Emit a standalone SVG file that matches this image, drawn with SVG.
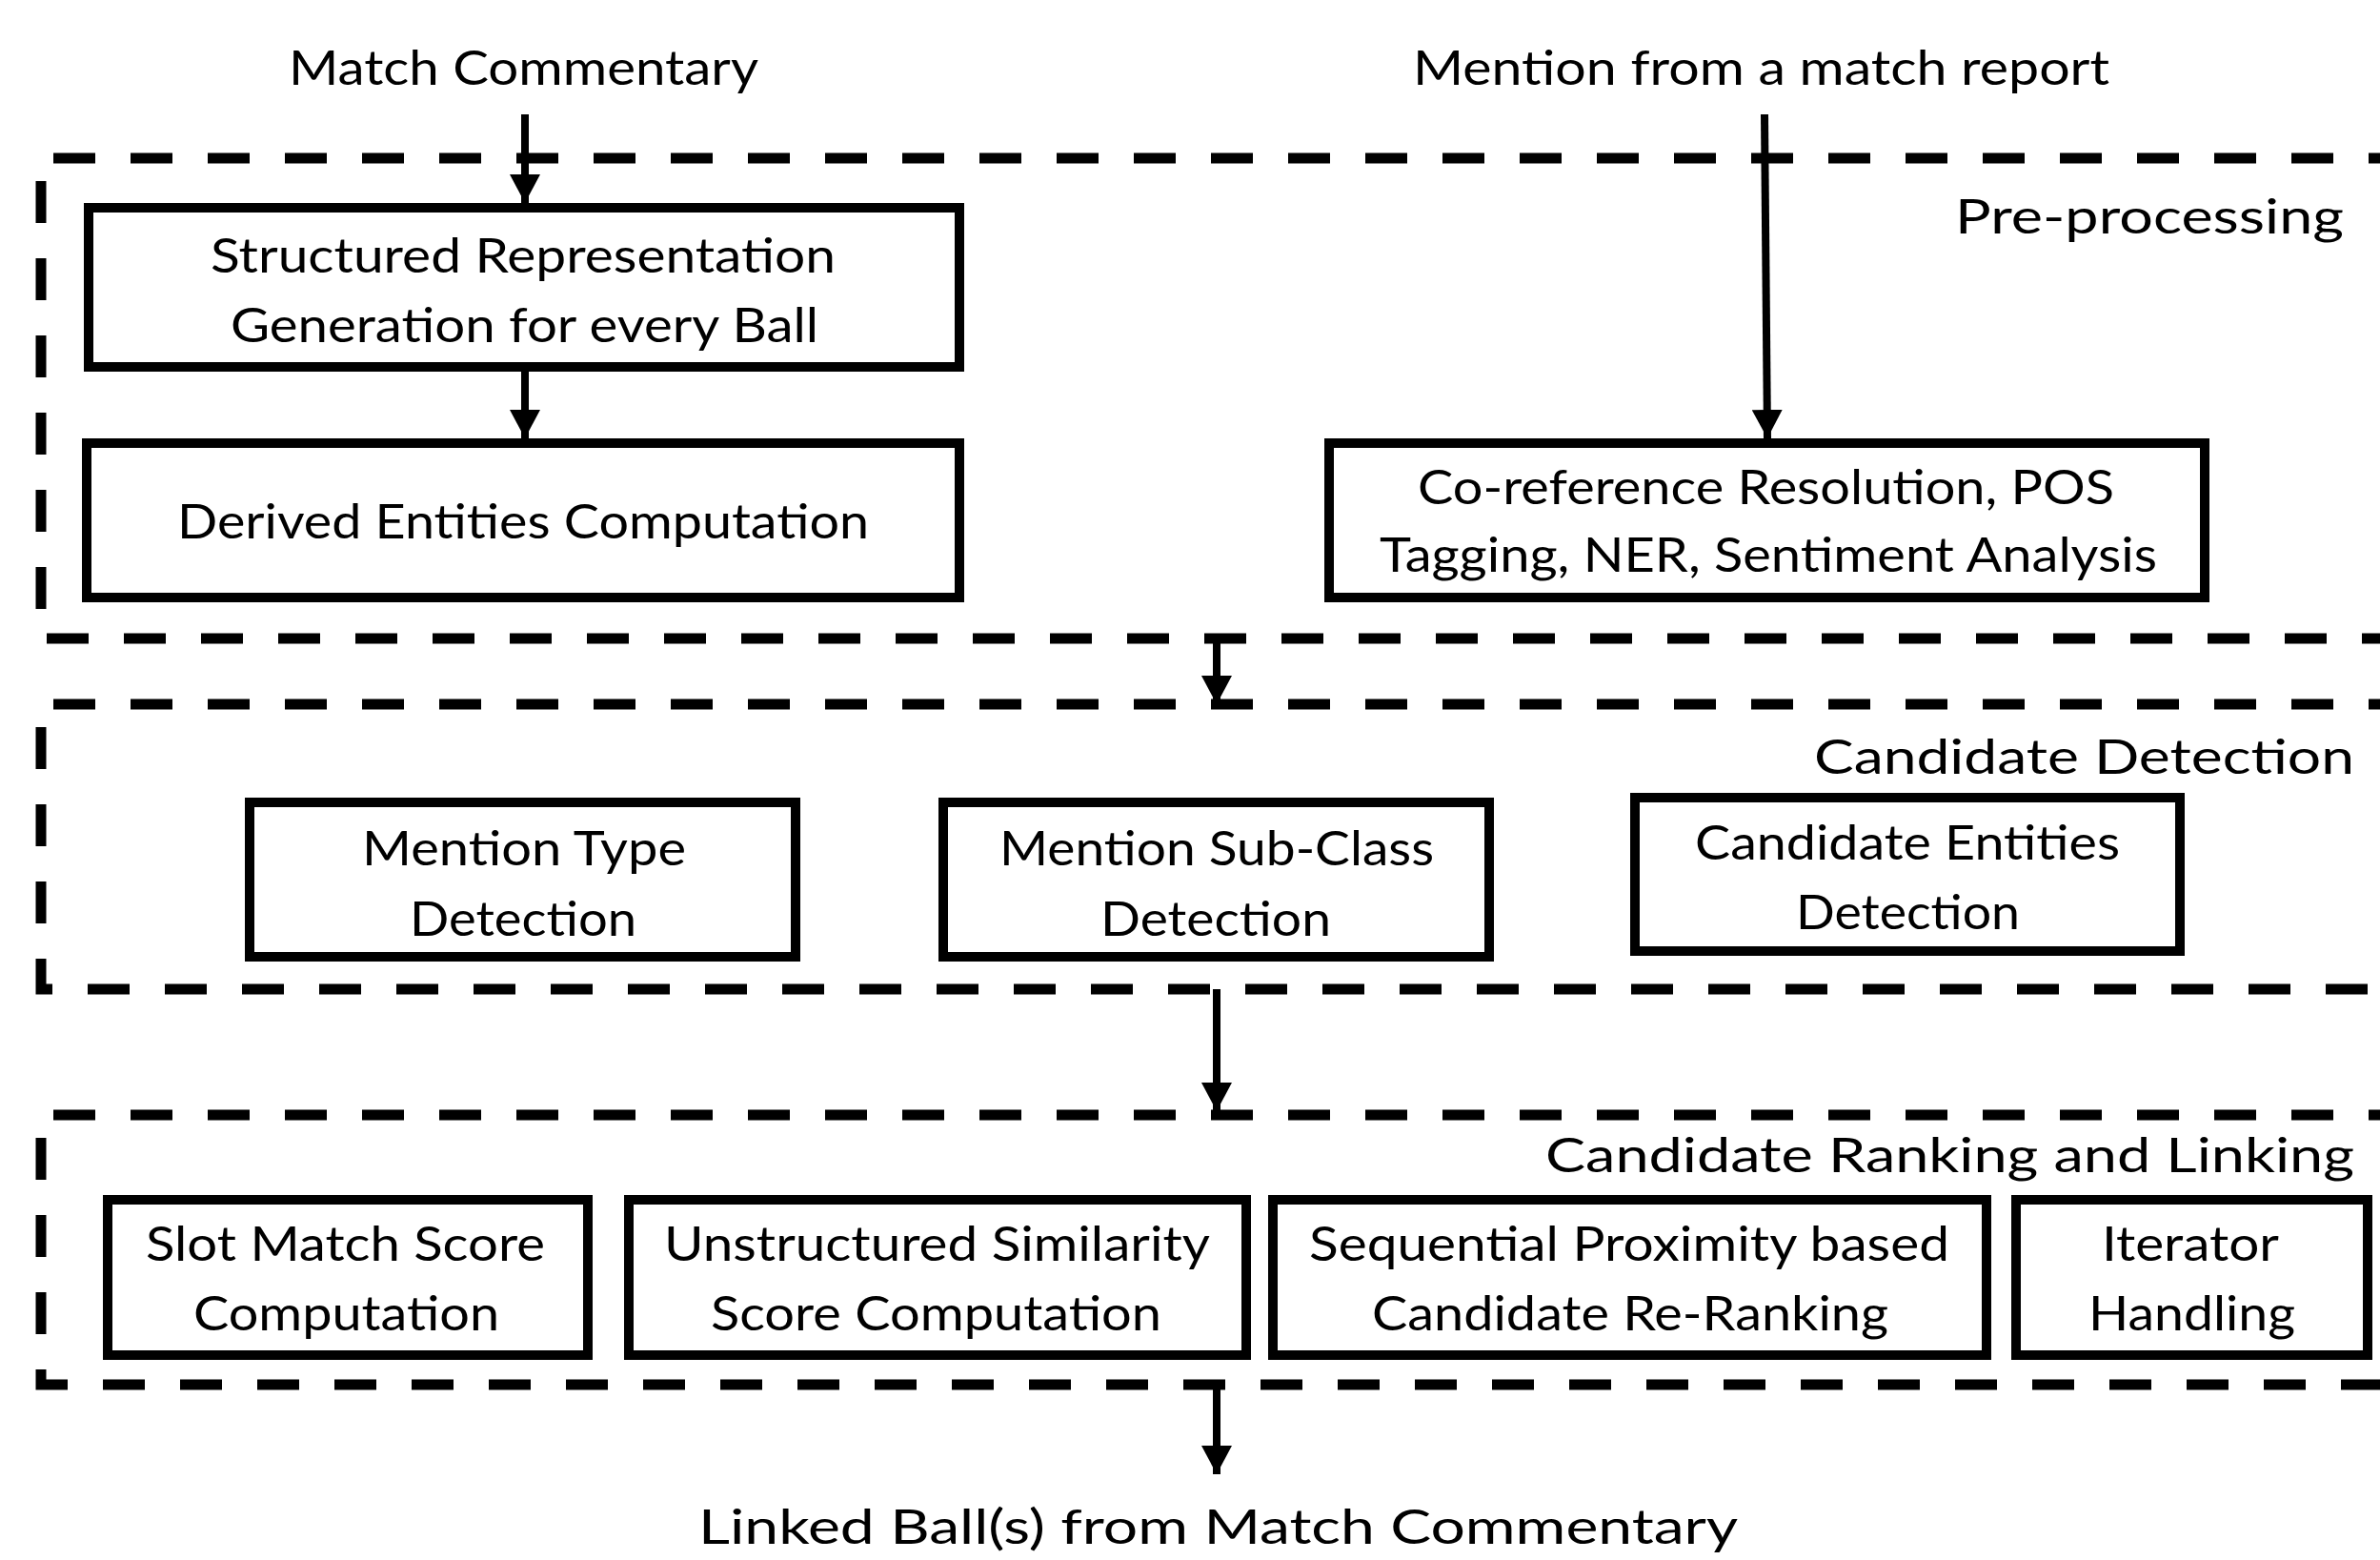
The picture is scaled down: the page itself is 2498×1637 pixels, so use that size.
<svg xmlns="http://www.w3.org/2000/svg" width="2498" height="1637" viewBox="0 0 2498 1637">
<style>
text{font-family:Lato,"Open Sans","Liberation Sans",sans-serif;font-size:51px;fill:#000}
.box{fill:#fff;stroke:#000;stroke-width:10}
.grp{fill:none;stroke:#000;stroke-width:11;stroke-dasharray:44 37}
.conn{stroke:#000;stroke-width:8;fill:none}
</style>
<defs>
<marker id="ah" markerUnits="userSpaceOnUse" markerWidth="32" markerHeight="32" viewBox="0 0 32 32" refX="30" refY="16" orient="auto">
<path d="M0,0 L30,16 L0,32 z" fill="#000"/>
</marker>
</defs>
<rect width="2498" height="1637" fill="#fff"/>
<g id="group-preprocessing">
<path class="grp" d="M2530,166 H43 V670 H2530"/>
<text x="2052" y="245" textLength="408" lengthAdjust="spacingAndGlyphs">Pre-processing</text>
</g>
<g id="group-candidate-detection">
<path class="grp" d="M2530,739 H43 V1038 H2530"/>
<text x="1904" y="812" textLength="567" lengthAdjust="spacingAndGlyphs">Candidate Detection</text>
</g>
<g id="group-ranking">
<path class="grp" d="M2530,1170 H43 V1453 H2530"/>
<text x="1622" y="1230" textLength="849" lengthAdjust="spacingAndGlyphs">Candidate Ranking and Linking</text>
</g>
<g id="input-commentary"><text x="303" y="89" textLength="493" lengthAdjust="spacingAndGlyphs">Match Commentary</text></g>
<g id="input-mention"><text x="1483" y="89" textLength="731" lengthAdjust="spacingAndGlyphs">Mention from a match report</text></g>
<g id="output-linked"><text x="733" y="1620" textLength="1091" lengthAdjust="spacingAndGlyphs">Linked Ball(s) from Match Commentary</text></g>
<g id="structured-rep">
<rect class="box" x="93" y="218" width="914" height="167"/>
<text x="221" y="286" textLength="656" lengthAdjust="spacingAndGlyphs">Structured Representation</text>
<text x="242" y="359" textLength="617" lengthAdjust="spacingAndGlyphs">Generation for every Ball</text>
</g>
<g id="derived-entities">
<rect class="box" x="91" y="465" width="916" height="162"/>
<text x="186" y="565" textLength="726" lengthAdjust="spacingAndGlyphs">Derived Entities Computation</text>
</g>
<g id="coref">
<rect class="box" x="1395" y="465" width="919" height="162"/>
<text x="1488" y="529" textLength="731" lengthAdjust="spacingAndGlyphs">Co-reference Resolution, POS</text>
<text x="1448" y="600" textLength="816" lengthAdjust="spacingAndGlyphs">Tagging, NER, Sentiment Analysis</text>
</g>
<g id="mention-type">
<rect class="box" x="262" y="842" width="573" height="162"/>
<text x="380" y="908" textLength="340" lengthAdjust="spacingAndGlyphs">Mention Type</text>
<text x="430" y="982" textLength="238" lengthAdjust="spacingAndGlyphs">Detection</text>
</g>
<g id="mention-subclass">
<rect class="box" x="990" y="842" width="573" height="162"/>
<text x="1049" y="908" textLength="456" lengthAdjust="spacingAndGlyphs">Mention Sub-Class</text>
<text x="1155" y="982" textLength="242" lengthAdjust="spacingAndGlyphs">Detection</text>
</g>
<g id="candidate-entities">
<rect class="box" x="1716" y="837" width="572" height="161"/>
<text x="1779" y="902" textLength="446" lengthAdjust="spacingAndGlyphs">Candidate Entities</text>
<text x="1885" y="975" textLength="235" lengthAdjust="spacingAndGlyphs">Detection</text>
</g>
<g id="slot-match">
<rect class="box" x="113" y="1259" width="504" height="163"/>
<text x="153" y="1323" textLength="419" lengthAdjust="spacingAndGlyphs">Slot Match Score</text>
<text x="203" y="1396" textLength="321" lengthAdjust="spacingAndGlyphs">Computation</text>
</g>
<g id="unstructured">
<rect class="box" x="660" y="1259" width="648" height="163"/>
<text x="697" y="1323" textLength="573" lengthAdjust="spacingAndGlyphs">Unstructured Similarity</text>
<text x="746" y="1396" textLength="473" lengthAdjust="spacingAndGlyphs">Score Computation</text>
</g>
<g id="sequential">
<rect class="box" x="1336" y="1259" width="749" height="163"/>
<text x="1374" y="1323" textLength="672" lengthAdjust="spacingAndGlyphs">Sequential Proximity based</text>
<text x="1440" y="1396" textLength="542" lengthAdjust="spacingAndGlyphs">Candidate Re-Ranking</text>
</g>
<g id="iterator">
<rect class="box" x="2116" y="1259" width="369" height="163"/>
<text x="2206" y="1323" textLength="186" lengthAdjust="spacingAndGlyphs">Iterator</text>
<text x="2192" y="1396" textLength="217" lengthAdjust="spacingAndGlyphs">Handling</text>
</g>
<g id="connectors">
<line class="conn" x1="551" y1="120" x2="551" y2="213" marker-end="url(#ah)"/>
<line class="conn" x1="551" y1="390" x2="551" y2="460" marker-end="url(#ah)"/>
<line class="conn" x1="1852" y1="120" x2="1855" y2="460" marker-end="url(#ah)"/>
<line class="conn" x1="1277" y1="670" x2="1277" y2="739" marker-end="url(#ah)"/>
<line class="conn" x1="1277" y1="1038" x2="1277" y2="1166" marker-end="url(#ah)"/>
<line class="conn" x1="1277" y1="1453" x2="1277" y2="1547" marker-end="url(#ah)"/>
</g>
</svg>
